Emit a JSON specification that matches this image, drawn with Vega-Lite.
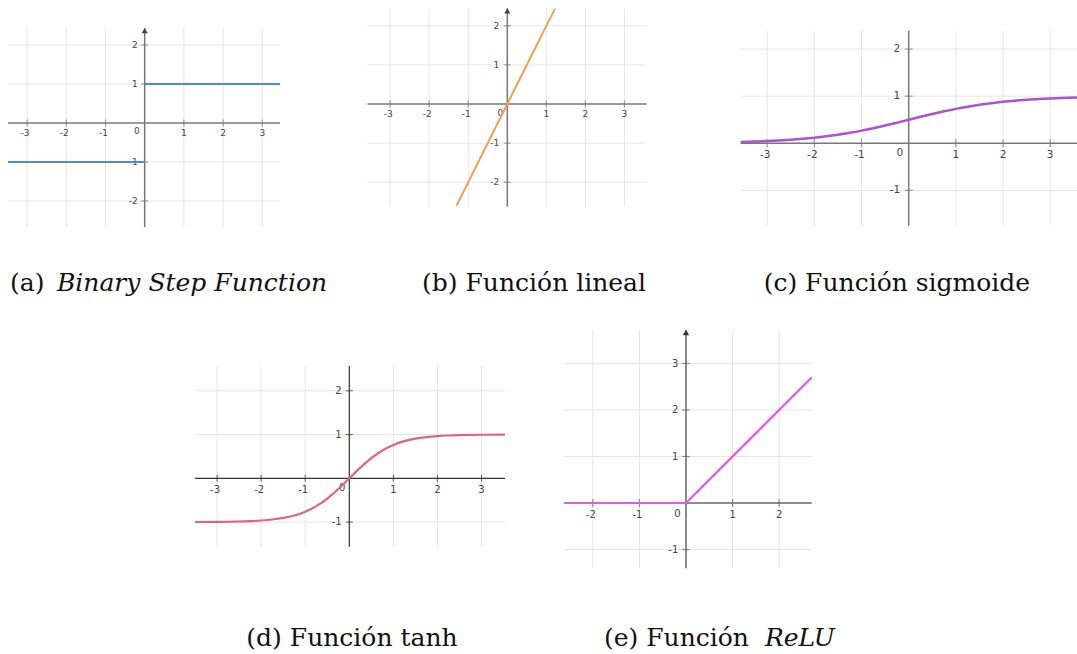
{
  "$schema": "https://vega.github.io/schema/vega-lite/v6.json",
  "width": 1077,
  "height": 654,
  "autosize": "none",
  "padding": 0,
  "background": "white",
  "config": {"view": {"stroke": null}, "axis": {"disable": true}},
  "resolve": {"scale": {"x": "independent", "y": "independent"}},
  "layer": [
    {
      "layer": [
        {"data": {"values": [{"v": -3}, {"v": -2}, {"v": -1}, {"v": 1}, {"v": 2}, {"v": 3}]},
         "mark": {"type": "rule", "color": "#e6e6e6", "strokeWidth": 1},
         "encoding": {"x": {"field": "v", "type": "quantitative", "scale": {"domain": [-3.691, 23.783], "nice": false, "zero": false}},
                      "y": {"datum": -2.667, "scale": {"domain": [-13.615, 3.154], "nice": false, "zero": false}}, "y2": {"datum": 2.436}}},
        {"data": {"values": [{"v": -2}, {"v": -1}, {"v": 1}, {"v": 2}]},
         "mark": {"type": "rule", "color": "#e6e6e6", "strokeWidth": 1},
         "encoding": {"y": {"field": "v", "type": "quantitative"}, "x": {"datum": -3.487}, "x2": {"datum": 3.452}}},
        {"data": {"values": [{}]}, "mark": {"type": "rule", "color": "#777777", "strokeWidth": 1.5},
         "encoding": {"y": {"datum": 0}, "x": {"datum": -3.487}, "x2": {"datum": 3.452}}},
        {"data": {"values": [{}]}, "mark": {"type": "rule", "color": "#777777", "strokeWidth": 1.5},
         "encoding": {"x": {"datum": 0}, "y": {"datum": -2.667}, "y2": {"datum": 2.436}}},
        {"data": {"values": [{"v": -3}, {"v": -2}, {"v": -1}, {"v": 1}, {"v": 2}, {"v": 3}]},
         "mark": {"type": "tick", "orient": "vertical", "size": 7, "thickness": 1.2, "color": "#777777"},
         "encoding": {"x": {"field": "v", "type": "quantitative"}, "y": {"datum": 0}}},
        {"data": {"values": [{"v": -2}, {"v": -1}, {"v": 1}, {"v": 2}]},
         "mark": {"type": "tick", "orient": "horizontal", "size": 7, "thickness": 1.2, "color": "#777777"},
         "encoding": {"y": {"field": "v", "type": "quantitative"}, "x": {"datum": 0}}},
        {"data": {"values": [{"v": -3}, {"v": -2}, {"v": -1}]},
         "mark": {"type": "text", "font": "DejaVu Sans", "fontSize": 9, "color": "#444444", "align": "center", "baseline": "alphabetic", "dy": 13, "dx": -2},
         "encoding": {"x": {"field": "v", "type": "quantitative"}, "y": {"datum": 0}, "text": {"field": "v", "type": "nominal"}}},
        {"data": {"values": [{"v": 1}, {"v": 2}, {"v": 3}]},
         "mark": {"type": "text", "font": "DejaVu Sans", "fontSize": 9, "color": "#444444", "align": "center", "baseline": "alphabetic", "dy": 13},
         "encoding": {"x": {"field": "v", "type": "quantitative"}, "y": {"datum": 0}, "text": {"field": "v", "type": "nominal"}}},
        {"data": {"values": [{"v": -2}, {"v": -1}, {"v": 1}, {"v": 2}]},
         "mark": {"type": "text", "font": "DejaVu Sans", "fontSize": 9, "color": "#444444", "align": "right", "baseline": "middle", "dx": -7},
         "encoding": {"y": {"field": "v", "type": "quantitative"}, "x": {"datum": 0}, "text": {"field": "v", "type": "nominal"}}},
        {"data": {"values": [{}]},
         "mark": {"type": "text", "font": "DejaVu Sans", "fontSize": 9, "color": "#444444", "align": "right", "baseline": "alphabetic", "dx": -5, "dy": 11},
         "encoding": {"x": {"datum": 0}, "y": {"datum": 0}, "text": {"value": "0"}}},
        {"data": {"values": [{}]},
         "mark": {"type": "point", "shape": "triangle-up", "size": 36, "filled": true, "color": "#444444", "opacity": 1},
         "encoding": {"x": {"datum": 0}, "y": {"datum": 2.369}}},
        {"data": {"values": [{"x": -3.487, "y": -1, "s": "neg"}, {"x": 0, "y": -1, "s": "neg"}, {"x": 0, "y": 1, "s": "pos"}, {"x": 3.452, "y": 1, "s": "pos"}]},
         "mark": {"type": "line", "color": "#4a8bd3", "strokeWidth": 2},
         "encoding": {"x": {"field": "x", "type": "quantitative"}, "y": {"field": "y", "type": "quantitative"}, "detail": {"field": "s"}}},
        {"data": {"values": [{}]},
         "mark": {"type": "text", "font": "DejaVu Serif", "fontSize": 25, "color": "#111111", "align": "left", "baseline": "alphabetic"},
         "encoding": {"x": {"datum": -3.436}, "y": {"datum": -4.308}, "text": {"value": "(a)"}}},
        {"data": {"values": [{}]},
         "mark": {"type": "text", "font": "DejaVu Serif", "fontSize": 25, "fontStyle": "italic", "color": "#111111", "align": "left", "baseline": "alphabetic"},
         "encoding": {"x": {"datum": -2.237}, "y": {"datum": -4.308}, "text": {"value": "Binary Step Function"}}}
      ]
    },
    {
      "layer": [
        {"data": {"values": [{"v": -3}, {"v": -2}, {"v": -1}, {"v": 1}, {"v": 2}, {"v": 3}]},
         "mark": {"type": "rule", "color": "#e6e6e6", "strokeWidth": 1},
         "encoding": {"x": {"field": "v", "type": "quantitative", "scale": {"domain": [-12.991, 14.589], "nice": false, "zero": false}},
                      "y": {"datum": -2.627, "scale": {"domain": [-14.066, 2.6598], "nice": false, "zero": false}}, "y2": {"datum": 2.448}}},
        {"data": {"values": [{"v": -2}, {"v": -1}, {"v": 1}, {"v": 2}]},
         "mark": {"type": "rule", "color": "#e6e6e6", "strokeWidth": 1},
         "encoding": {"y": {"field": "v", "type": "quantitative"}, "x": {"datum": -3.58}, "x2": {"datum": 3.565}}},
        {"data": {"values": [{}]}, "mark": {"type": "rule", "color": "#777777", "strokeWidth": 1.5},
         "encoding": {"y": {"datum": 0}, "x": {"datum": -3.58}, "x2": {"datum": 3.565}}},
        {"data": {"values": [{}]}, "mark": {"type": "rule", "color": "#777777", "strokeWidth": 1.5},
         "encoding": {"x": {"datum": 0}, "y": {"datum": -2.627}, "y2": {"datum": 2.448}}},
        {"data": {"values": [{"v": -3}, {"v": -2}, {"v": -1}, {"v": 1}, {"v": 2}, {"v": 3}]},
         "mark": {"type": "tick", "orient": "vertical", "size": 7, "thickness": 1.2, "color": "#777777"},
         "encoding": {"x": {"field": "v", "type": "quantitative"}, "y": {"datum": 0}}},
        {"data": {"values": [{"v": -2}, {"v": -1}, {"v": 1}, {"v": 2}]},
         "mark": {"type": "tick", "orient": "horizontal", "size": 7, "thickness": 1.2, "color": "#777777"},
         "encoding": {"y": {"field": "v", "type": "quantitative"}, "x": {"datum": 0}}},
        {"data": {"values": [{"v": -3}, {"v": -2}, {"v": -1}]},
         "mark": {"type": "text", "font": "DejaVu Sans", "fontSize": 9, "color": "#444444", "align": "center", "baseline": "alphabetic", "dy": 13, "dx": -2},
         "encoding": {"x": {"field": "v", "type": "quantitative"}, "y": {"datum": 0}, "text": {"field": "v", "type": "nominal"}}},
        {"data": {"values": [{"v": 1}, {"v": 2}, {"v": 3}]},
         "mark": {"type": "text", "font": "DejaVu Sans", "fontSize": 9, "color": "#444444", "align": "center", "baseline": "alphabetic", "dy": 13},
         "encoding": {"x": {"field": "v", "type": "quantitative"}, "y": {"datum": 0}, "text": {"field": "v", "type": "nominal"}}},
        {"data": {"values": [{"v": -2}, {"v": -1}, {"v": 1}, {"v": 2}]},
         "mark": {"type": "text", "font": "DejaVu Sans", "fontSize": 9, "color": "#444444", "align": "right", "baseline": "middle", "dx": -8},
         "encoding": {"y": {"field": "v", "type": "quantitative"}, "x": {"datum": 0}, "text": {"field": "v", "type": "nominal"}}},
        {"data": {"values": [{}]},
         "mark": {"type": "text", "font": "DejaVu Sans", "fontSize": 9, "color": "#444444", "align": "right", "baseline": "alphabetic", "dx": -4, "dy": 12},
         "encoding": {"x": {"datum": 0}, "y": {"datum": 0}, "text": {"value": "0"}}},
        {"data": {"values": [{}]},
         "mark": {"type": "point", "shape": "triangle-up", "size": 36, "filled": true, "color": "#444444", "opacity": 1},
         "encoding": {"x": {"datum": 0}, "y": {"datum": 2.381}}},
        {"data": {"values": [{"x": -1.3, "y": -2.6}, {"x": 1.22, "y": 2.44}]},
         "mark": {"type": "line", "color": "#f59c52", "strokeWidth": 2},
         "encoding": {"x": {"field": "x", "type": "quantitative"}, "y": {"field": "y", "type": "quantitative"}}},
        {"data": {"values": [{}]},
         "mark": {"type": "text", "font": "DejaVu Serif", "fontSize": 25, "color": "#111111", "align": "center", "baseline": "alphabetic"},
         "encoding": {"x": {"datum": 0.684}, "y": {"datum": -4.783}, "text": {"value": "(b) Función lineal"}}}
      ]
    },
    {
      "layer": [
        {"data": {"values": [{"v": -3}, {"v": -2}, {"v": -1}, {"v": 1}, {"v": 2}, {"v": 3}]},
         "mark": {"type": "rule", "color": "#e6e6e6", "strokeWidth": 1},
         "encoding": {"x": {"field": "v", "type": "quantitative", "scale": {"domain": [-19.264, 3.568], "nice": false, "zero": false}},
                      "y": {"datum": -1.75, "scale": {"domain": [-10.843, 3.0425], "nice": false, "zero": false}}, "y2": {"datum": 2.39}}},
        {"data": {"values": [{"v": -1}, {"v": 1}, {"v": 2}]},
         "mark": {"type": "rule", "color": "#e6e6e6", "strokeWidth": 1},
         "encoding": {"y": {"field": "v", "type": "quantitative"}, "x": {"datum": -3.562}, "x2": {"datum": 3.568}}},
        {"data": {"values": [{}]}, "mark": {"type": "rule", "color": "#777777", "strokeWidth": 1.5},
         "encoding": {"y": {"datum": 0}, "x": {"datum": -3.562}, "x2": {"datum": 3.568}}},
        {"data": {"values": [{}]}, "mark": {"type": "rule", "color": "#777777", "strokeWidth": 1.5},
         "encoding": {"x": {"datum": 0}, "y": {"datum": -1.75}, "y2": {"datum": 2.39}}},
        {"data": {"values": [{"v": -3}, {"v": -2}, {"v": -1}, {"v": 1}, {"v": 2}, {"v": 3}]},
         "mark": {"type": "tick", "orient": "vertical", "size": 8, "thickness": 1.2, "color": "#777777"},
         "encoding": {"x": {"field": "v", "type": "quantitative"}, "y": {"datum": 0}}},
        {"data": {"values": [{"v": -1}, {"v": 1}, {"v": 2}]},
         "mark": {"type": "tick", "orient": "horizontal", "size": 8, "thickness": 1.2, "color": "#777777"},
         "encoding": {"y": {"field": "v", "type": "quantitative"}, "x": {"datum": 0}}},
        {"data": {"values": [{"v": -3}, {"v": -2}, {"v": -1}]},
         "mark": {"type": "text", "font": "DejaVu Sans", "fontSize": 10.5, "color": "#444444", "align": "center", "baseline": "alphabetic", "dy": 15, "dx": -2},
         "encoding": {"x": {"field": "v", "type": "quantitative"}, "y": {"datum": 0}, "text": {"field": "v", "type": "nominal"}}},
        {"data": {"values": [{"v": 1}, {"v": 2}, {"v": 3}]},
         "mark": {"type": "text", "font": "DejaVu Sans", "fontSize": 10.5, "color": "#444444", "align": "center", "baseline": "alphabetic", "dy": 15},
         "encoding": {"x": {"field": "v", "type": "quantitative"}, "y": {"datum": 0}, "text": {"field": "v", "type": "nominal"}}},
        {"data": {"values": [{"v": -1}, {"v": 1}, {"v": 2}]},
         "mark": {"type": "text", "font": "DejaVu Sans", "fontSize": 10.5, "color": "#444444", "align": "right", "baseline": "middle", "dx": -8.5},
         "encoding": {"y": {"field": "v", "type": "quantitative"}, "x": {"datum": 0}, "text": {"field": "v", "type": "nominal"}}},
        {"data": {"values": [{}]},
         "mark": {"type": "text", "font": "DejaVu Sans", "fontSize": 10.5, "color": "#444444", "align": "right", "baseline": "alphabetic", "dx": -5.4, "dy": 13},
         "encoding": {"x": {"datum": 0}, "y": {"datum": 0}, "text": {"value": "0"}}},
        {"data": {"values": [
           {"x": -3.56, "y": 0.0277}, {"x": -3.25, "y": 0.0373}, {"x": -3, "y": 0.0474}, {"x": -2.75, "y": 0.0601},
           {"x": -2.5, "y": 0.0759}, {"x": -2.25, "y": 0.0953}, {"x": -2, "y": 0.1192}, {"x": -1.75, "y": 0.148},
           {"x": -1.5, "y": 0.1824}, {"x": -1.25, "y": 0.2227}, {"x": -1, "y": 0.2689}, {"x": -0.75, "y": 0.3208},
           {"x": -0.5, "y": 0.3775}, {"x": -0.25, "y": 0.4378}, {"x": 0, "y": 0.5}, {"x": 0.25, "y": 0.5622},
           {"x": 0.5, "y": 0.6225}, {"x": 0.75, "y": 0.6792}, {"x": 1, "y": 0.7311}, {"x": 1.25, "y": 0.7773},
           {"x": 1.5, "y": 0.8176}, {"x": 1.75, "y": 0.852}, {"x": 2, "y": 0.8808}, {"x": 2.25, "y": 0.9047},
           {"x": 2.5, "y": 0.9241}, {"x": 2.75, "y": 0.9399}, {"x": 3, "y": 0.9526}, {"x": 3.25, "y": 0.9627},
           {"x": 3.57, "y": 0.9726}]},
         "mark": {"type": "line", "color": "#ad52cf", "strokeWidth": 2.5, "interpolate": "monotone"},
         "encoding": {"x": {"field": "x", "type": "quantitative"}, "y": {"field": "y", "type": "quantitative"}}},
        {"data": {"values": [{}]},
         "mark": {"type": "text", "font": "DejaVu Serif", "fontSize": 25, "color": "#111111", "align": "center", "baseline": "alphabetic"},
         "encoding": {"x": {"datum": -0.25}, "y": {"datum": -3.136}, "text": {"value": "(c) Función sigmoide"}}}
      ]
    },
    {
      "layer": [
        {"data": {"values": [{"v": -3}, {"v": -2}, {"v": -1}, {"v": 1}, {"v": 2}, {"v": 3}]},
         "mark": {"type": "rule", "color": "#e6e6e6", "strokeWidth": 1},
         "encoding": {"x": {"field": "v", "type": "quantitative", "scale": {"domain": [-7.926, 16.512], "nice": false, "zero": false}},
                      "y": {"datum": -1.563, "scale": {"domain": [-4.014, 10.928], "nice": false, "zero": false}}, "y2": {"datum": 2.566}}},
        {"data": {"values": [{"v": -1}, {"v": 1}, {"v": 2}]},
         "mark": {"type": "rule", "color": "#e6e6e6", "strokeWidth": 1},
         "encoding": {"y": {"field": "v", "type": "quantitative"}, "x": {"datum": -3.501}, "x2": {"datum": 3.533}}},
        {"data": {"values": [{}]}, "mark": {"type": "rule", "color": "#333333", "strokeWidth": 1.2},
         "encoding": {"y": {"datum": 0}, "x": {"datum": -3.501}, "x2": {"datum": 3.533}}},
        {"data": {"values": [{}]}, "mark": {"type": "rule", "color": "#333333", "strokeWidth": 1.2},
         "encoding": {"x": {"datum": 0}, "y": {"datum": -1.563}, "y2": {"datum": 2.566}}},
        {"data": {"values": [{"v": -3}, {"v": -2}, {"v": -1}, {"v": 1}, {"v": 2}, {"v": 3}]},
         "mark": {"type": "tick", "orient": "vertical", "size": 7, "thickness": 1.1, "color": "#333333"},
         "encoding": {"x": {"field": "v", "type": "quantitative"}, "y": {"datum": 0}}},
        {"data": {"values": [{"v": -1}, {"v": 1}, {"v": 2}]},
         "mark": {"type": "tick", "orient": "horizontal", "size": 7, "thickness": 1.1, "color": "#333333"},
         "encoding": {"y": {"field": "v", "type": "quantitative"}, "x": {"datum": 0}}},
        {"data": {"values": [{"v": -3}, {"v": -2}, {"v": -1}]},
         "mark": {"type": "text", "font": "DejaVu Sans", "fontSize": 10, "color": "#444444", "align": "center", "baseline": "alphabetic", "dy": 15, "dx": -2},
         "encoding": {"x": {"field": "v", "type": "quantitative"}, "y": {"datum": 0}, "text": {"field": "v", "type": "nominal"}}},
        {"data": {"values": [{"v": 1}, {"v": 2}, {"v": 3}]},
         "mark": {"type": "text", "font": "DejaVu Sans", "fontSize": 10, "color": "#444444", "align": "center", "baseline": "alphabetic", "dy": 15},
         "encoding": {"x": {"field": "v", "type": "quantitative"}, "y": {"datum": 0}, "text": {"field": "v", "type": "nominal"}}},
        {"data": {"values": [{"v": -1}, {"v": 1}, {"v": 2}]},
         "mark": {"type": "text", "font": "DejaVu Sans", "fontSize": 10, "color": "#444444", "align": "right", "baseline": "middle", "dx": -7.6},
         "encoding": {"y": {"field": "v", "type": "quantitative"}, "x": {"datum": 0}, "text": {"field": "v", "type": "nominal"}}},
        {"data": {"values": [{}]},
         "mark": {"type": "text", "font": "DejaVu Sans", "fontSize": 10, "color": "#444444", "align": "right", "baseline": "alphabetic", "dx": -4, "dy": 12.5},
         "encoding": {"x": {"datum": 0}, "y": {"datum": 0}, "text": {"value": "0"}}},
        {"data": {"values": [
           {"x": -3.5, "y": -0.9982}, {"x": -3, "y": -0.9951}, {"x": -2.5, "y": -0.9866}, {"x": -2.25, "y": -0.978},
           {"x": -2, "y": -0.964}, {"x": -1.75, "y": -0.9414}, {"x": -1.5, "y": -0.9051}, {"x": -1.25, "y": -0.8483},
           {"x": -1, "y": -0.7616}, {"x": -0.75, "y": -0.6351}, {"x": -0.5, "y": -0.4621}, {"x": -0.25, "y": -0.2449},
           {"x": 0, "y": 0}, {"x": 0.25, "y": 0.2449}, {"x": 0.5, "y": 0.4621}, {"x": 0.75, "y": 0.6351},
           {"x": 1, "y": 0.7616}, {"x": 1.25, "y": 0.8483}, {"x": 1.5, "y": 0.9051}, {"x": 1.75, "y": 0.9414},
           {"x": 2, "y": 0.964}, {"x": 2.25, "y": 0.978}, {"x": 2.5, "y": 0.9866}, {"x": 3, "y": 0.9951},
           {"x": 3.53, "y": 0.9983}]},
         "mark": {"type": "line", "color": "#e0647e", "strokeWidth": 2.2, "interpolate": "monotone"},
         "encoding": {"x": {"field": "x", "type": "quantitative"}, "y": {"field": "y", "type": "quantitative"}}},
        {"data": {"values": [{}]},
         "mark": {"type": "text", "font": "DejaVu Serif", "fontSize": 25, "color": "#111111", "align": "center", "baseline": "alphabetic"},
         "encoding": {"x": {"datum": 0.061}, "y": {"datum": -3.831}, "text": {"value": "(d) Función tanh"}}}
      ]
    },
    {
      "layer": [
        {"data": {"values": [{"v": -2}, {"v": -1}, {"v": 1}, {"v": 2}]},
         "mark": {"type": "rule", "color": "#e6e6e6", "strokeWidth": 1},
         "encoding": {"x": {"field": "v", "type": "quantitative", "scale": {"domain": [-14.729, 8.395], "nice": false, "zero": false}},
                      "y": {"datum": -1.404, "scale": {"domain": [-3.247, 10.817], "nice": false, "zero": false}}, "y2": {"datum": 3.72}}},
        {"data": {"values": [{"v": -1}, {"v": 1}, {"v": 2}, {"v": 3}]},
         "mark": {"type": "rule", "color": "#e6e6e6", "strokeWidth": 1},
         "encoding": {"y": {"field": "v", "type": "quantitative"}, "x": {"datum": -2.619}, "x2": {"datum": 2.699}}},
        {"data": {"values": [{}]}, "mark": {"type": "rule", "color": "#666666", "strokeWidth": 1.5},
         "encoding": {"y": {"datum": 0}, "x": {"datum": -2.619}, "x2": {"datum": 2.699}}},
        {"data": {"values": [{}]}, "mark": {"type": "rule", "color": "#666666", "strokeWidth": 1.5},
         "encoding": {"x": {"datum": 0}, "y": {"datum": -1.404}, "y2": {"datum": 3.72}}},
        {"data": {"values": [{"v": -2}, {"v": -1}, {"v": 1}, {"v": 2}]},
         "mark": {"type": "tick", "orient": "vertical", "size": 8, "thickness": 1.2, "color": "#666666"},
         "encoding": {"x": {"field": "v", "type": "quantitative"}, "y": {"datum": 0}}},
        {"data": {"values": [{"v": -1}, {"v": 1}, {"v": 2}, {"v": 3}]},
         "mark": {"type": "tick", "orient": "horizontal", "size": 8, "thickness": 1.2, "color": "#666666"},
         "encoding": {"y": {"field": "v", "type": "quantitative"}, "x": {"datum": 0}}},
        {"data": {"values": [{"v": -2}, {"v": -1}]},
         "mark": {"type": "text", "font": "DejaVu Sans", "fontSize": 10, "color": "#444444", "align": "center", "baseline": "alphabetic", "dy": 15, "dx": -2},
         "encoding": {"x": {"field": "v", "type": "quantitative"}, "y": {"datum": 0}, "text": {"field": "v", "type": "nominal"}}},
        {"data": {"values": [{"v": 1}, {"v": 2}]},
         "mark": {"type": "text", "font": "DejaVu Sans", "fontSize": 10, "color": "#444444", "align": "center", "baseline": "alphabetic", "dy": 15},
         "encoding": {"x": {"field": "v", "type": "quantitative"}, "y": {"datum": 0}, "text": {"field": "v", "type": "nominal"}}},
        {"data": {"values": [{"v": -1}, {"v": 1}, {"v": 2}, {"v": 3}]},
         "mark": {"type": "text", "font": "DejaVu Sans", "fontSize": 10, "color": "#444444", "align": "right", "baseline": "middle", "dx": -7.7},
         "encoding": {"y": {"field": "v", "type": "quantitative"}, "x": {"datum": 0}, "text": {"field": "v", "type": "nominal"}}},
        {"data": {"values": [{}]},
         "mark": {"type": "text", "font": "DejaVu Sans", "fontSize": 10, "color": "#444444", "align": "right", "baseline": "alphabetic", "dx": -5.3, "dy": 13.7},
         "encoding": {"x": {"datum": 0}, "y": {"datum": 0}, "text": {"value": "0"}}},
        {"data": {"values": [{}]},
         "mark": {"type": "point", "shape": "triangle-up", "size": 40, "filled": true, "color": "#333333", "opacity": 1},
         "encoding": {"x": {"datum": 0}, "y": {"datum": 3.665}}},
        {"data": {"values": [{"x": -2.619, "y": 0}, {"x": 0, "y": 0}, {"x": 2.699, "y": 2.699}]},
         "mark": {"type": "line", "color": "#f052f0", "strokeWidth": 2.2},
         "encoding": {"x": {"field": "x", "type": "quantitative"}, "y": {"field": "y", "type": "quantitative"}}},
        {"data": {"values": [{}]},
         "mark": {"type": "text", "font": "DejaVu Serif", "fontSize": 25, "color": "#111111", "align": "left", "baseline": "alphabetic"},
         "encoding": {"x": {"datum": -1.761}, "y": {"datum": -3.075}, "text": {"value": "(e) Función"}}},
        {"data": {"values": [{}]},
         "mark": {"type": "text", "font": "DejaVu Serif", "fontSize": 25, "fontStyle": "italic", "color": "#111111", "align": "left", "baseline": "alphabetic"},
         "encoding": {"x": {"datum": 1.696}, "y": {"datum": -3.075}, "text": {"value": "ReLU"}}}
      ]
    }
  ]
}
